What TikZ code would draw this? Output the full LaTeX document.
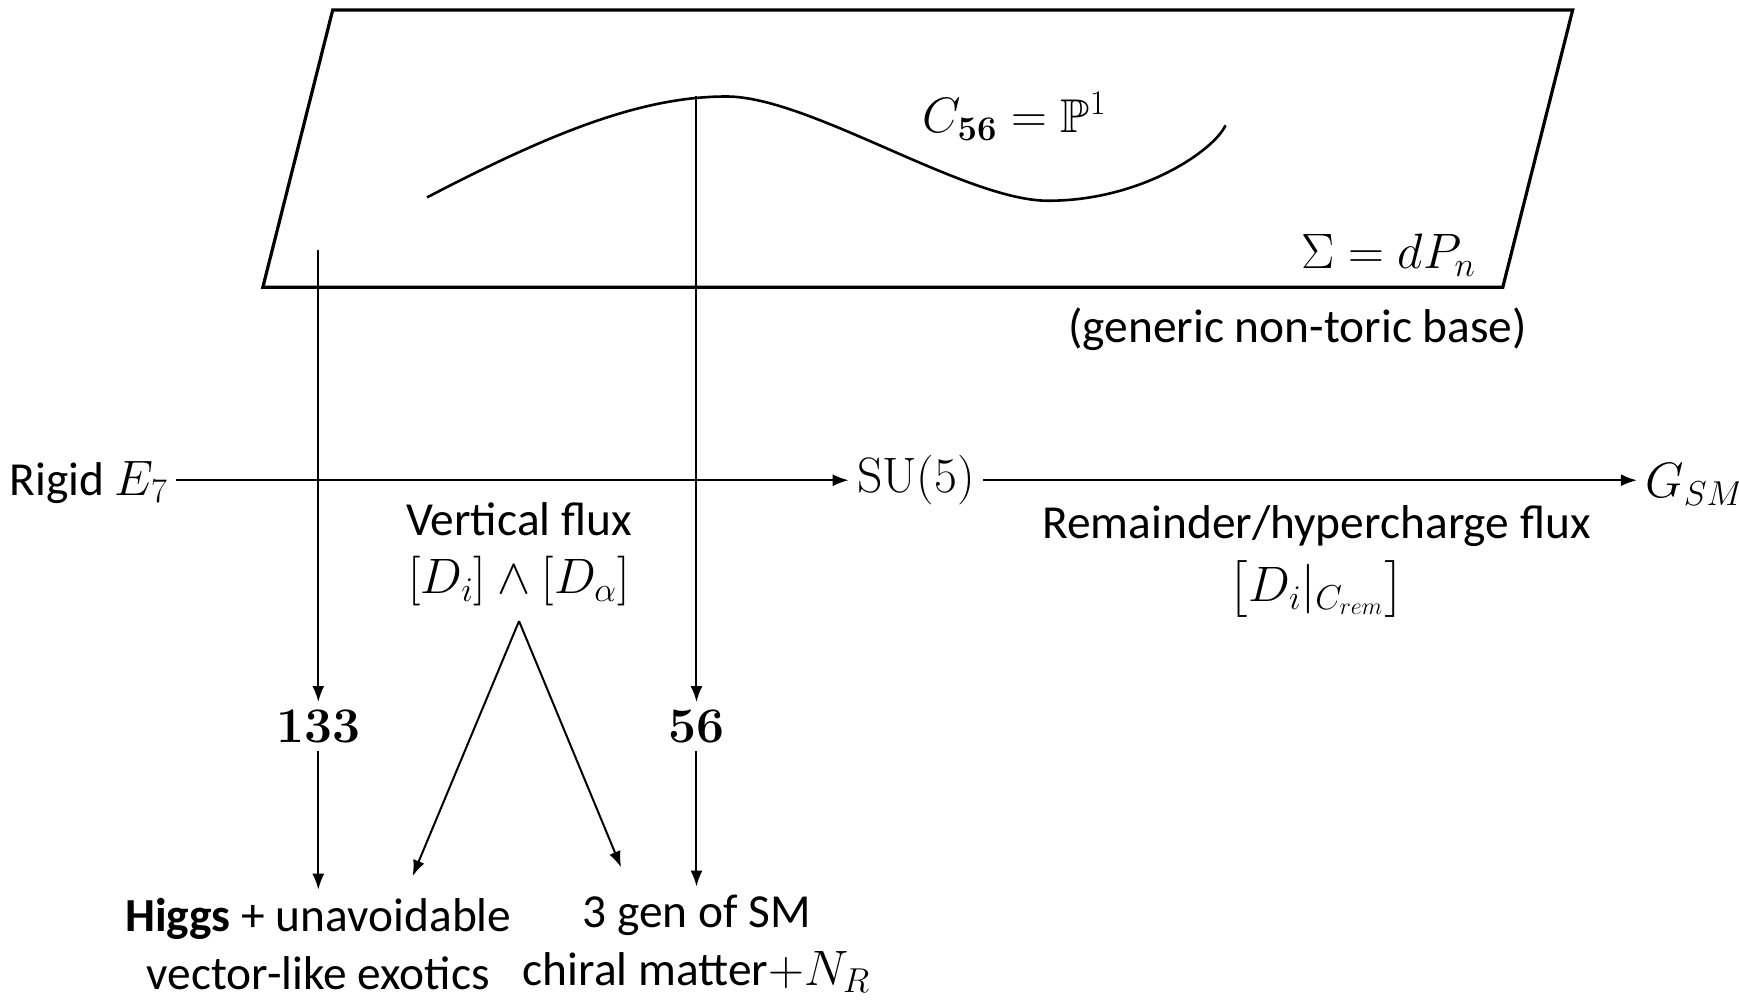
\documentclass[tikz,border=0pt]{standalone}
\usepackage{amsmath,amssymb}
\usepackage[no-math]{fontspec}
\setmainfont{Carlito}
\usetikzlibrary{arrows.meta}
\begin{document}
\begin{tikzpicture}[x=0.5545pt,y=-0.5545pt,
  every node/.style={font=\fontsize{23.7}{28.9}\selectfont, inner sep=4pt},
  lbl/.style={align=center},
  conn/.style={line width=1pt,-{Latex[length=8pt,width=6pt]}},
  sheet/.style={line width=1.6pt},
  curvestyle/.style={line width=1.3pt}]
\useasboundingbox (0,0) rectangle (1568,903);
% base surface
\draw[sheet] (300,9) -- (1418,9) -- (1355,259) -- (237,259) -- cycle;
\draw[curvestyle] (385,178) .. controls (500,118) and (580,87) .. (655,87)
  .. controls (730,87) and (870,181) .. (945,181)
  .. controls (1030,181) and (1095,135) .. (1105,113);
\node (cfifty) at (915,105) {$C_{\mathbf{56}}=\mathbb{P}^1$};
\node (sigma) at (1252,230) {$\Sigma = dP_n$};
\node (generic) at (1170,297) {(generic non-toric base)};
% group chain
\node (rigid) at (80,435) {Rigid $E_7$};
\node (su5) at (826,433) {$\mathrm{SU}(5)$};
\node (gsm) at (1528,437) {$G_{SM}$};
\coordinate (hy) at (0,433);
\draw[conn] (rigid.east |- hy) -- (su5.west |- hy);
\draw[conn] (su5.east |- hy) -- (gsm.west |- hy);
\node[lbl] (vflux) at (468,500) {Vertical flux\\$[D_i]\wedge[D_\alpha]$};
\node[lbl] (rflux) at (1187,507) {Remainder/hypercharge flux\\[3pt]$\bigl[D_i|_{C_{rem}}\bigr]$};
% representations
\node (n133) at (287,655) {$\mathbf{133}$};
\node (n56) at (628,655) {$\mathbf{56}$};
\node[lbl] (higgs) at (287,851) {\textbf{Higgs} + unavoidable\\vector-like exotics};
\node[lbl] (gen) at (628,851) {3 gen of SM\\chiral matter$+N_R$};
\coordinate (l0) at (287,225);
\coordinate (m0) at (628,87);
\draw[conn] (l0) -- (n133.north);
\draw[conn] (m0) -- (n56.north);
\draw[conn] (n133.south) -- (higgs.north -| n133.south);
\draw[conn] (n56.south) -- (gen.north);
\coordinate (vs) at (468,560);
\coordinate (ht) at (372,790);
\coordinate (gt) at (560,782);
\draw[conn] (vs) -- (ht);
\draw[conn] (vs) -- (gt);
\end{tikzpicture}
\end{document}
